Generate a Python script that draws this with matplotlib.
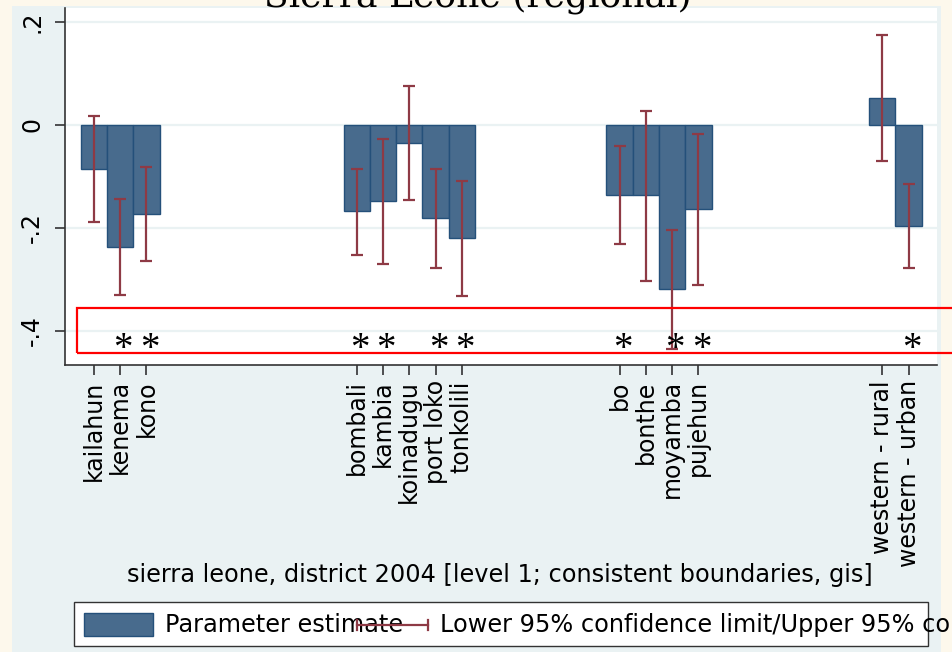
import matplotlib.pyplot as plt
from matplotlib.patches import Rectangle
from matplotlib.lines import Line2D

# data
districts = ["kailahun", "kenema", "kono",
             "bombali", "kambia", "koinadugu", "port loko", "tonkolili",
             "bo", "bonthe", "moyamba", "pujehun",
             "western - rural", "western - urban"]
group_sizes = [3, 5, 4, 2]
estimate = [-0.085, -0.237, -0.173,
            -0.167, -0.148, -0.035, -0.180, -0.219,
            -0.136, -0.136, -0.318, -0.163,
            0.052, -0.196]
ci_low = [-0.188, -0.330, -0.264,
          -0.252, -0.270, -0.146, -0.277, -0.332,
          -0.231, -0.302, -0.435, -0.310,
          -0.070, -0.277]
ci_high = [0.018, -0.144, -0.082,
           -0.085, -0.027, 0.076, -0.085, -0.108,
           -0.041, 0.027, -0.204, -0.018,
           0.175, -0.114]
significant = [False, True, True,
               True, True, False, True, True,
               True, False, True, True,
               False, True]
yticks = [0.2, 0, -0.2, -0.4]
ytick_labels = [".2", "0", "-.2", "-.4"]

# layout
W, H = 952, 652
group_gaps = [8, 6, 7]  # distance from last bar of a group to first of next
bar_color = "#486b8d"
bar_edge = "#24507a"
ci_color = "#8e3a45"
region_bg = "#eaf2f3"
outer_bg = "#fdf8ec"


def fx(px):
    return px / W


def fy(py):
    return 1 - py / H


# x positions of bars from group structure
xpos = []
cur = 0
for gi, n in enumerate(group_sizes):
    for k in range(n):
        xpos.append(cur)
        cur += 1
    if gi < len(group_gaps):
        cur += group_gaps[gi] - 1

fig = plt.figure(figsize=(W / 100, H / 100), dpi=100, facecolor=outer_bg)
fig.patches.append(Rectangle((fx(12), 0), fx(941) - fx(12), fy(6),
                             transform=fig.transFigure, facecolor=region_bg,
                             edgecolor="none", zorder=-10))

ax = fig.add_axes([fx(65), fy(365), fx(937) - fx(65), fy(8) - fy(365)])
ax.set_zorder(1)
ax.set_facecolor("white")
ax.set_xlim(-1.1, 32.08)
ax.set_ylim(-0.4661, 0.2272)

for y in yticks:
    ax.axhline(y, color=region_bg, lw=1.6, zorder=1)

ax.bar(xpos, estimate, width=1.0, color=bar_color, edgecolor=bar_edge,
       linewidth=1.0, zorder=2)
yerr = [[e - lo for e, lo in zip(estimate, ci_low)],
        [hi - e for e, hi in zip(estimate, ci_high)]]
ax.errorbar(xpos, estimate, yerr=yerr, fmt="none", ecolor=ci_color,
            elinewidth=1.6, capsize=4.5, capthick=1.6, zorder=3)

# significance stars
for x, s in zip(xpos, significant):
    if s:
        ax.text(x + 0.12, -0.436, "*", ha="center", va="center",
                fontsize=28, family="Liberation Serif", color="black",
                zorder=4)

for side in ["top", "right"]:
    ax.spines[side].set_visible(False)
for side in ["left", "bottom"]:
    ax.spines[side].set_color("#333333")
    ax.spines[side].set_linewidth(1.2)

ax.set_yticks(yticks)
ax.set_yticklabels(ytick_labels, rotation=90, va="center", fontsize=17)
ax.set_xticks(xpos)
ax.set_xticklabels(districts, rotation=90, ha="center", va="top", fontsize=17)
ax.tick_params(axis="both", length=7, width=1.2, color="#333333", pad=4)
ax.tick_params(axis="y", pad=8)

# title (clipped at the top edge)
fig.text(fx(478), fy(7), "Sierra Leone (regional)", ha="center", va="baseline",
         fontsize=26, family="DejaVu Serif", color="black")

# x axis title
fig.text(fx(500), fy(575), "sierra leone, district 2004 [level 1; consistent boundaries, gis]",
         ha="center", va="center", fontsize=17.3)

# legend
fig.patches.append(Rectangle((fx(74), fy(646)), fx(928) - fx(74), fy(602) - fy(646),
                             transform=fig.transFigure, facecolor="white",
                             edgecolor="#333333", lw=1.0, zorder=5))
fig.patches.append(Rectangle((fx(84), fy(636)), fx(153) - fx(84), fy(613) - fy(636),
                             transform=fig.transFigure, facecolor=bar_color,
                             edgecolor=bar_edge, lw=1.0, zorder=6))
fig.text(fx(165), fy(625), "Parameter estimate", ha="left", va="center",
         fontsize=17.3, zorder=7)
fig.lines.append(Line2D([fx(357), fx(428)], [fy(625), fy(625)],
                        transform=fig.transFigure, color=ci_color, lw=1.6, zorder=8))
for px in [357, 428]:
    fig.lines.append(Line2D([fx(px), fx(px)], [fy(620), fy(630)],
                            transform=fig.transFigure, color=ci_color, lw=1.6, zorder=8))
fig.text(fx(440), fy(625), "Lower 95% confidence limit/Upper 95% confidence limit",
         ha="left", va="center", fontsize=17.3, zorder=7)

# red highlight box over the significance row
fig.patches.append(Rectangle((fx(77), fy(353)), fx(960) - fx(77), fy(308) - fy(353),
                             transform=fig.transFigure, facecolor="none",
                             edgecolor="#ff0000", lw=1.6, zorder=10))

fig.savefig("out.png", dpi=100, facecolor=outer_bg)
